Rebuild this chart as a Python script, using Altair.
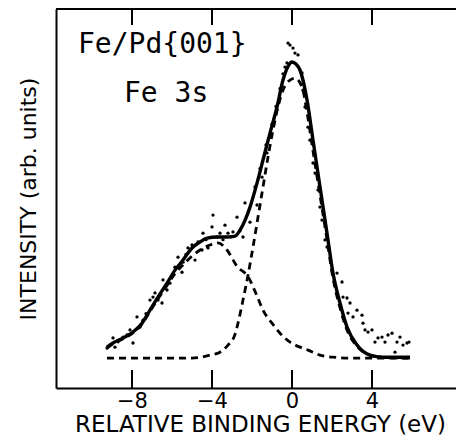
import altair as alt
import pandas as pd

# Fe 3s photoemission from Fe/Pd{001}: measured counts, total fit and its two components
fit_e = [-9.25, -8.95, -8.45, -7.95, -7.5, -7.1, -6.7, -6.25, -5.85, -5.45, -5.0, -4.6, -4.25,
         -3.75, -3.25, -2.85, -2.6, -2.35, -2.1, -1.75, -1.45, -1.1, -0.75, -0.45, -0.2, 0.0,
         0.2, 0.4, 0.75, 1.05, 1.4, 1.75, 2.05, 2.4, 2.75, 3.25, 3.9, 4.55, 5.9]
fit_i = [0.037, 0.051, 0.068, 0.088, 0.118, 0.162, 0.206, 0.253, 0.297, 0.331, 0.372, 0.392, 0.405,
         0.409, 0.409, 0.412, 0.432, 0.465, 0.510, 0.591, 0.669, 0.760, 0.848, 0.939, 0.985, 1.0,
         0.993, 0.973, 0.872, 0.736, 0.578, 0.422, 0.287, 0.186, 0.105, 0.044, 0.010, 0.003, 0.003]

main_e = [-9.25, -5.0, -4.1, -3.6, -3.2, -2.85, -2.7, -2.45, -2.2, -1.95, -1.7, -1.45, -1.2, -0.95,
          -0.7, -0.45, -0.1, 0.15, 0.5, 0.75, 1.05, 1.4, 1.75, 2.05, 2.4, 2.75, 3.25, 3.9, 4.55, 5.9]
main_i = [0.0, 0.0, 0.01, 0.02, 0.044, 0.08, 0.118, 0.196, 0.28, 0.375, 0.476, 0.578, 0.679, 0.770,
          0.848, 0.905, 0.939, 0.945, 0.916, 0.83, 0.70, 0.55, 0.40, 0.27, 0.17, 0.095, 0.04, 0.01,
          0.002, 0.0]

sat_e = [-9.25, -8.95, -8.45, -7.95, -7.5, -7.1, -6.7, -6.25, -5.85, -5.45, -5.1, -4.6, -4.1, -3.7,
         -3.25, -2.75, -2.2, -1.75, -1.45, -1.0, -0.6, -0.1, 0.4, 0.8, 1.4, 2.05, 3.0, 4.0, 5.9]
sat_i = [0.034, 0.048, 0.065, 0.085, 0.115, 0.158, 0.2, 0.245, 0.285, 0.315, 0.338, 0.365, 0.382,
         0.389, 0.365, 0.31, 0.275, 0.21, 0.162, 0.118, 0.084, 0.054, 0.037, 0.027, 0.01, 0.003,
         0.0, 0.0, 0.0]

data_e = [-9.25, -9.1, -8.95, -8.85, -8.7, -8.45, -8.25, -8.1, -7.95, -7.75, -7.6, -7.45, -7.3,
          -7.1, -6.95, -6.85, -6.7, -6.5, -6.45, -6.25, -6.1, -5.95, -5.85, -5.7, -5.5, -5.45,
          -5.3, -5.2, -5.0, -4.85, -4.7, -4.5, -4.45, -4.3, -4.2, -4.0, -3.95, -3.75, -3.6, -3.45,
          -3.35, -3.2, -3.05, -2.95, -2.75, -2.6, -2.45, -2.35, -2.1, -1.85, -1.75, -1.6, -1.5,
          -1.3, -1.25, -1.0, -0.8, -0.6, -0.45, -0.35, -0.25, -0.2, -0.1, 0.05, 0.15, 0.3, 0.5,
          0.55, 0.65, 0.8, 0.9, 1.05, 1.15, 1.3, 1.4, 1.5, 1.65, 1.75, 2.0, 2.25, 2.5, 2.55, 2.75,
          2.8, 2.9, 3.05, 3.25, 3.5, 3.55, 3.65, 3.8, 4.0, 4.15, 4.3, 4.5, 4.65, 4.8, 5.0, 5.15,
          5.25, 5.4, 5.55, 5.75, 5.85]
data_i = [0.034, 0.044, 0.068, 0.037, 0.055, 0.071, 0.078, 0.095, 0.051, 0.139, 0.105, 0.128, 0.15,
          0.196, 0.206, 0.22, 0.196, 0.186, 0.264, 0.23, 0.253, 0.28, 0.307, 0.341, 0.29, 0.324,
          0.35, 0.372, 0.382, 0.331, 0.392, 0.365, 0.422, 0.40, 0.372, 0.443, 0.483, 0.409, 0.422,
          0.40, 0.449, 0.422, 0.41, 0.426, 0.476, 0.43, 0.409, 0.524, 0.459, 0.578, 0.517, 0.64,
          0.611, 0.72, 0.693, 0.79, 0.85, 0.91, 0.96, 0.983, 0.997, 1.064, 1.057, 1.047, 1.03,
          1.024, 0.963, 0.905, 0.848, 0.78, 0.736, 0.659, 0.625, 0.568, 0.51, 0.466, 0.399, 0.375,
          0.297, 0.287, 0.257, 0.206, 0.203, 0.152, 0.186, 0.139, 0.162, 0.145, 0.118, 0.095,
          0.088, 0.095, 0.054, 0.068, 0.071, 0.054, 0.078, 0.084, 0.02, 0.054, 0.071, 0.044,
          0.051, 0.054]

tick_values = [-8, -4, 0, 4]

labels = ["Fe/Pd{001}", "Fe 3s"]
label_e = [-10.7, -8.4]
label_i = [1.057, 0.893]

FONT = "DejaVu Sans"
NOTE_FONT = "DejaVu Sans Mono"
INK = "black"

x_scale = alt.Scale(domain=[-11.8, 8.2], nice=False, zero=False)
y_scale = alt.Scale(domain=[-0.101, 1.179], nice=False, zero=False)

x_axis = alt.Axis(values=tick_values, ticks=False, grid=False, domain=True, domainWidth=2,
                  domainColor=INK, labelFont=FONT, labelFontSize=21, labelColor=INK,
                  labelPadding=2, title="RELATIVE BINDING ENERGY (eV)", titleFont=FONT,
                  titleFontSize=23, titleFontWeight="normal", titleColor=INK, titlePadding=2,
                  titleX=204, titleAlign="center")
y_axis = alt.Axis(labels=False, ticks=False, grid=False, domain=True, domainWidth=2,
                  domainColor=INK, title="INTENSITY (arb. units)", titleFont=FONT,
                  titleFontSize=22, titleFontWeight="normal", titleColor=INK, titlePadding=16)

# every layer shares the same x / y definitions so the axes merge cleanly
X = alt.X("E:Q", scale=x_scale, axis=x_axis)
Y = alt.Y("I:Q", scale=y_scale, axis=y_axis)

fit_df = pd.DataFrame({"E": fit_e, "I": fit_i})
main_df = pd.DataFrame({"E": main_e, "I": main_i})
sat_df = pd.DataFrame({"E": sat_e, "I": sat_i})
pts_df = pd.DataFrame({"E": data_e, "I": data_i})
tick_df = pd.DataFrame({"E": tick_values})
label_df = pd.DataFrame({"text": labels, "E": label_e, "I": label_i})

fit = alt.Chart(fit_df).mark_line(color=INK, strokeWidth=3.4, interpolate="monotone").encode(
    x=X, y=Y
)


def component(df):
    return alt.Chart(df).mark_line(color=INK, strokeWidth=2.8, strokeDash=[7, 5],
                                   interpolate="monotone").encode(x=X, y=Y)


points = alt.Chart(pts_df).mark_circle(color=INK, size=11, opacity=1).encode(x=X, y=Y)

# top frame line and inward-pointing ticks on both horizontal edges
top_line = alt.Chart(tick_df).mark_rule(color=INK, strokeWidth=2).encode(
    x=alt.value(0), x2=alt.value(400), y=alt.value(0)
)
ticks_top = alt.Chart(tick_df).mark_rule(color=INK, strokeWidth=2).encode(
    x=X, y=alt.value(0), y2=alt.value(16)
)
ticks_bottom = alt.Chart(tick_df).mark_rule(color=INK, strokeWidth=2).encode(
    x=X, y=alt.value(379), y2=alt.value(361)
)

notes = alt.Chart(label_df).mark_text(align="left", baseline="middle", font=NOTE_FONT,
                                      fontSize=28, color=INK).encode(x=X, y=Y, text="text:N")

chart = alt.layer(
    fit, component(main_df), component(sat_df), points, top_line, ticks_top, ticks_bottom, notes
).properties(
    width=400,
    height=379,
    autosize=alt.AutoSizeParams(type="none"),
    padding={"left": 56, "top": 9, "right": 0, "bottom": 52},
    background="white",
).configure_view(stroke=None)

chart.save("out.html", embed_options={"renderer": "svg", "actions": False})
